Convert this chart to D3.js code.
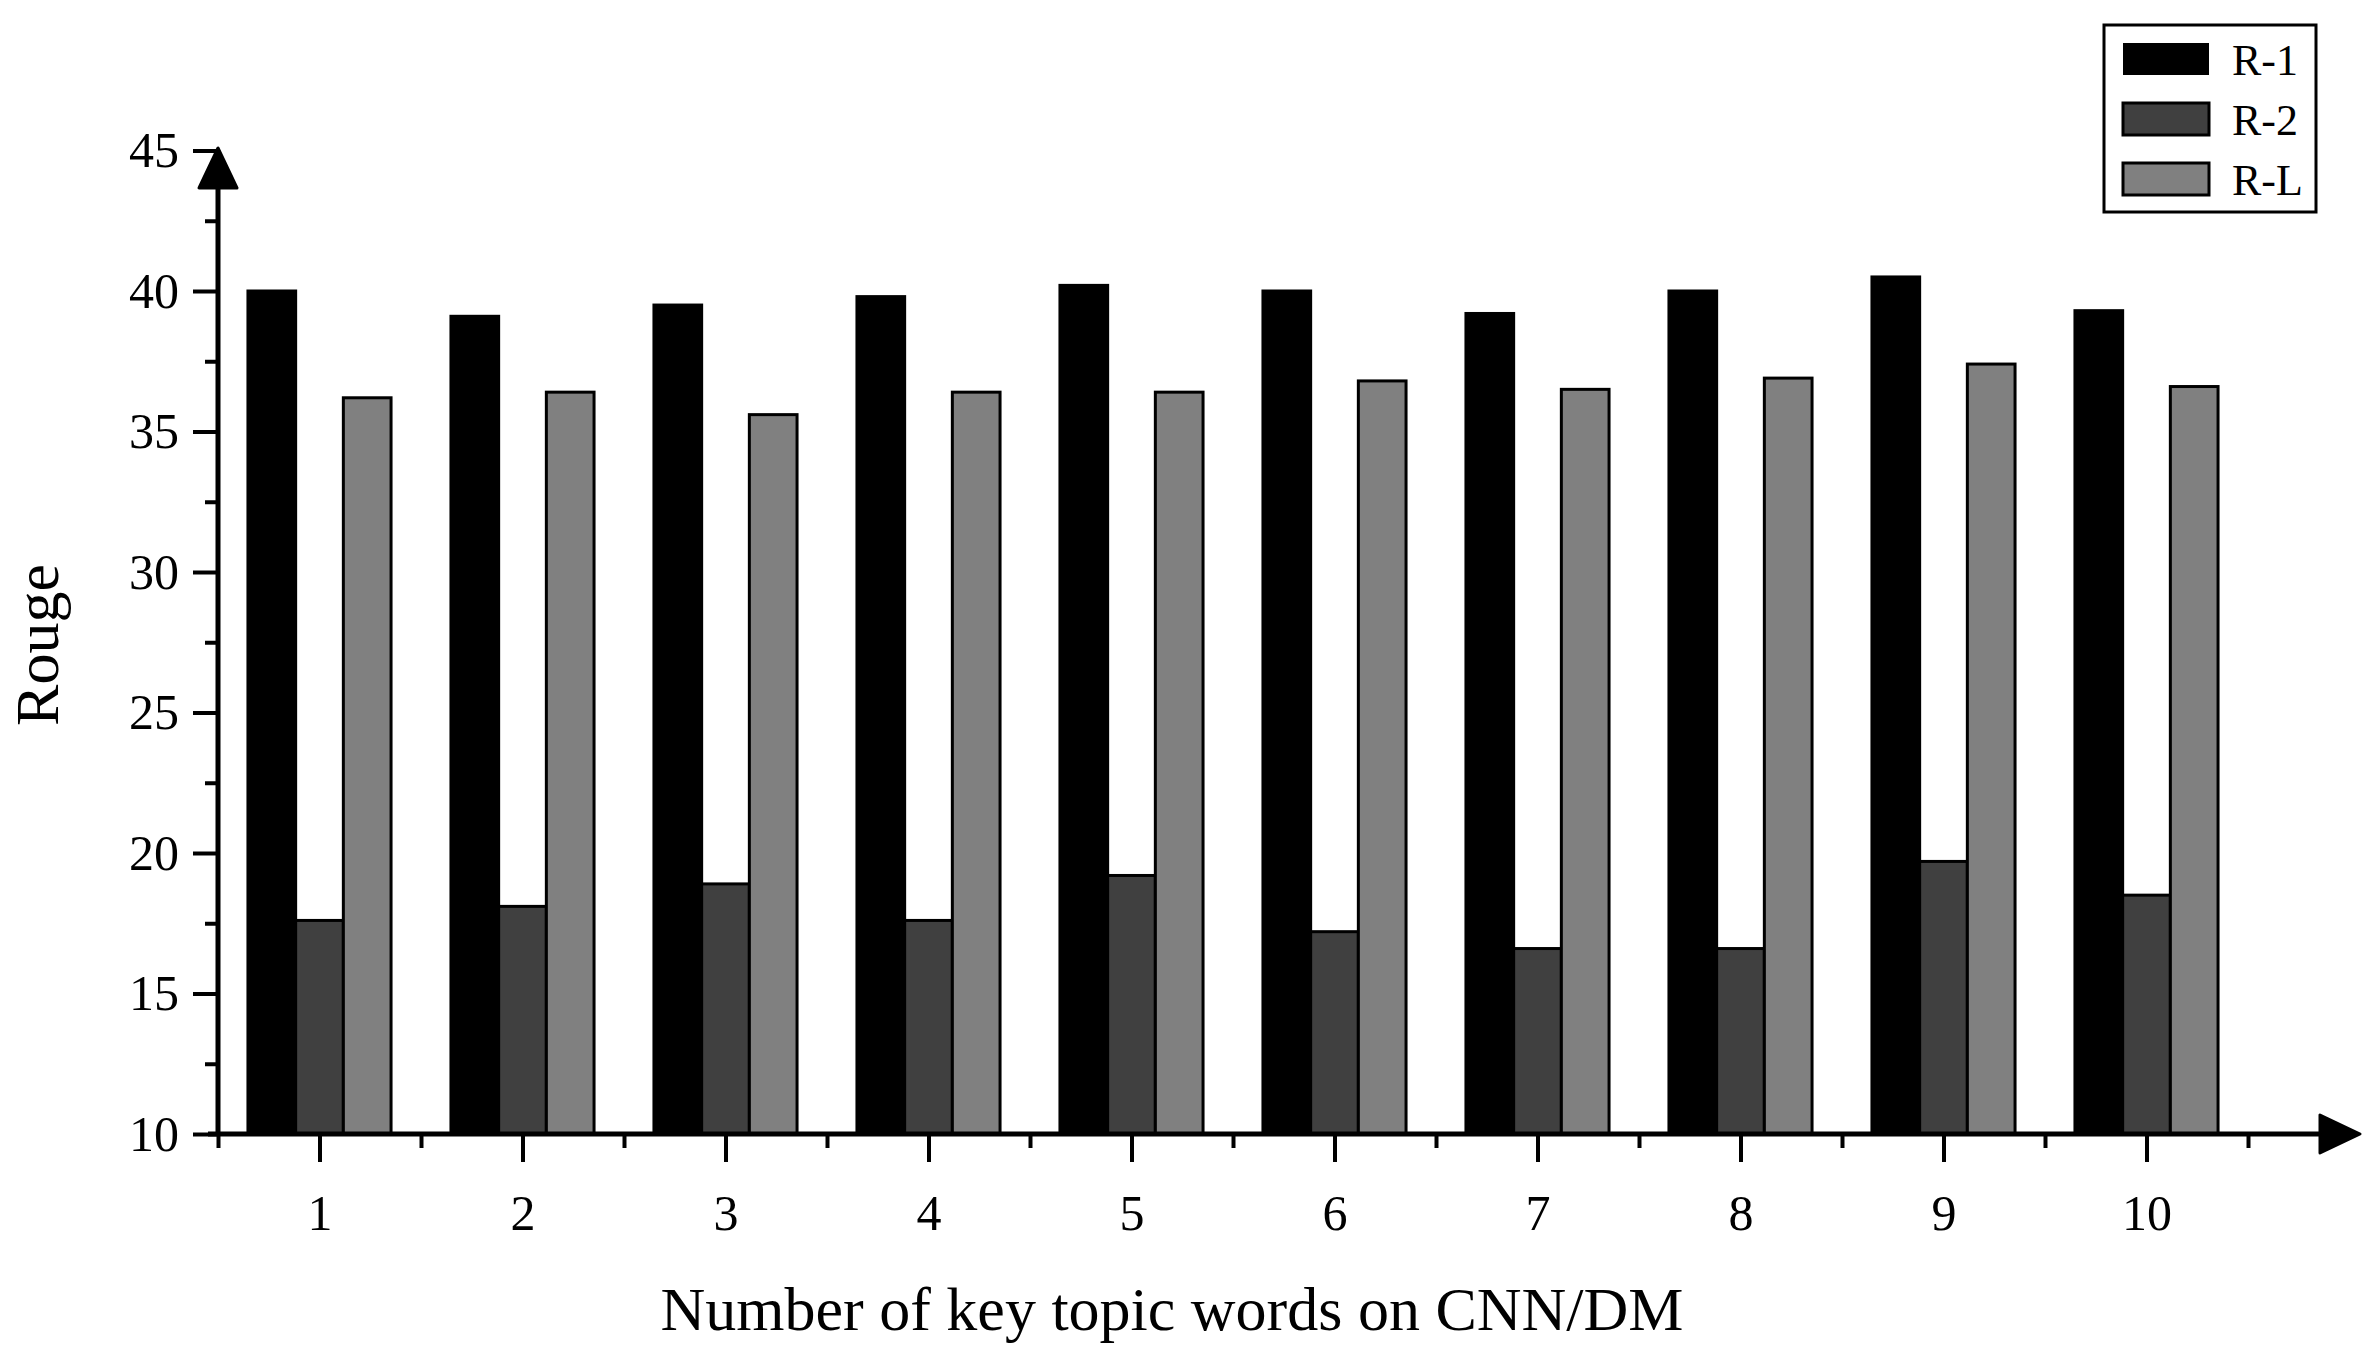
<!DOCTYPE html>
<html><head><meta charset="utf-8">
<script src="https://cdn.jsdelivr.net/npm/d3@7"></script>
<style>body{margin:0;background:#fff}text{font-family:"Liberation Serif","Times New Roman",serif}</style>
</head><body><svg id="c" width="2375" height="1366"></svg>
<script>
const categories = [1,2,3,4,5,6,7,8,9,10];
const seriesNames = ["R-1","R-2","R-L"];
const r1 = [40.0,39.1,39.5,39.8,40.2,40.0,39.2,40.0,40.5,39.3];
const r2 = [17.6,18.1,18.9,17.6,19.2,17.2,16.6,16.6,19.7,18.5];
const rL = [36.2,36.4,35.6,36.4,36.4,36.8,36.5,36.9,37.4,36.6];
const yTicks = [10,15,20,25,30,35,40,45];
const colors = ["#000000","#404040","#808080"];
const series = [r1,r2,rL];

const svg = d3.select("#c");
const x = d3.scaleLinear().domain([0.5,10.5]).range([218,2248]);
const y = d3.scaleLinear().domain([10,45]).range([1134,150.5]);
const bw = 47.7;

series.forEach((vals,si)=>{
  svg.append("g").selectAll("rect").data(vals).join("rect")
    .attr("x",(d,i)=>x(categories[i]) - 1.5*bw + si*bw)
    .attr("y",d=>y(d)).attr("width",bw).attr("height",d=>y(10)-y(d))
    .attr("fill",colors[si]).attr("stroke","#000").attr("stroke-width",3);
});

// y axis
const ya = svg.append("g").attr("transform","translate(218,0)")
  .call(d3.axisLeft(y).tickValues(yTicks).tickSize(25).tickPadding(14));
ya.select(".domain").remove();
ya.selectAll("line").attr("stroke-width",4);
ya.selectAll("text").attr("font-size",50).attr("font-family","Liberation Serif");
svg.append("g").attr("transform","translate(218,0)")
  .call(d3.axisLeft(y).tickValues(d3.range(12.5,45,5)).tickSize(13).tickFormat(""))
  .call(g=>{g.select(".domain").remove();g.selectAll("line").attr("stroke-width",4);});

// x axis
const xa = svg.append("g").attr("transform","translate(0,1134)")
  .call(d3.axisBottom(x).tickValues(categories).tickSize(28).tickPadding(32));
xa.select(".domain").remove();
xa.selectAll("line").attr("stroke-width",4);
xa.selectAll("text").attr("font-size",50).attr("font-family","Liberation Serif");
svg.append("g").attr("transform","translate(0,1134)")
  .call(d3.axisBottom(x).tickValues(d3.range(0.5,11,1)).tickSize(14).tickFormat(""))
  .call(g=>{g.select(".domain").remove();g.selectAll("line").attr("stroke-width",4);});

// axis lines with arrows
svg.append("line").attr("x1",218).attr("y1",1136).attr("x2",218).attr("y2",175).attr("stroke","#000").attr("stroke-width",5);
svg.append("path").attr("d","M218,148 L199,188 L237,188 Z").attr("fill","#000").attr("stroke","#000").attr("stroke-linejoin","round").attr("stroke-width",3);
svg.append("line").attr("x1",208).attr("y1",1134).attr("x2",2330).attr("y2",1134).attr("stroke","#000").attr("stroke-width",5);
svg.append("path").attr("d","M2360,1134 L2320,1115 L2320,1153 Z").attr("fill","#000").attr("stroke","#000").attr("stroke-linejoin","round").attr("stroke-width",3);

// titles
svg.append("text").attr("x",1172).attr("y",1330).attr("text-anchor","middle").attr("font-size",62).text("Number of key topic words on CNN/DM");
svg.append("text").attr("transform","translate(58,645) rotate(-90)").attr("text-anchor","middle").attr("font-size",62).text("Rouge");

// legend
const lg = svg.append("g");
lg.append("rect").attr("x",2104).attr("y",25).attr("width",212).attr("height",187).attr("fill","#fff").attr("stroke","#000").attr("stroke-width",3);
seriesNames.forEach((n,i)=>{
  lg.append("rect").attr("x",2123).attr("y",43+i*60).attr("width",86).attr("height",32)
    .attr("fill",colors[i]).attr("stroke",i===0?"none":"#000").attr("stroke-width",3);
  lg.append("text").attr("x",2232).attr("y",75+i*60).attr("font-size",44).text(n);
});
</script></body></html>
